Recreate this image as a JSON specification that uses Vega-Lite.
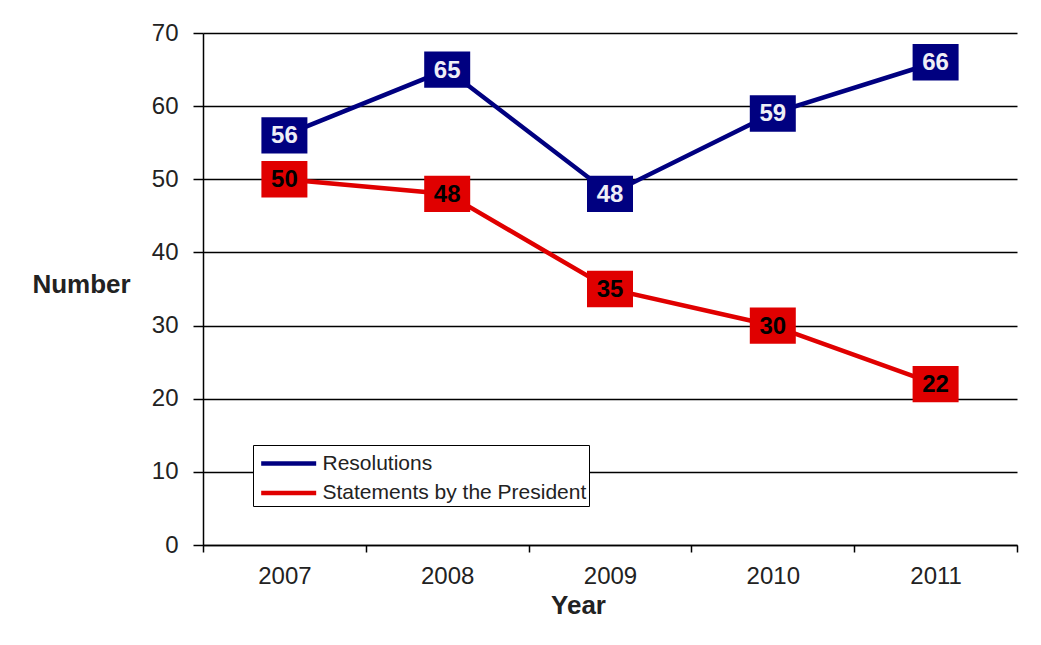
{
  "$schema": "https://vega.github.io/schema/vega-lite/v6.json",
  "autosize": {"type": "none"},
  "width": 814,
  "height": 512,
  "padding": {"left": 203, "top": 33, "right": 24, "bottom": 100},
  "background": "white",
  "config": {
    "view": {"stroke": null},
    "font": "Liberation Sans",
    "axis": {
      "domainColor": "black",
      "domainWidth": 1.5,
      "tickColor": "black",
      "tickWidth": 1.5,
      "labelColor": "#222222",
      "labelFont": "Liberation Sans",
      "labelFontSize": 24,
      "titleFont": "Liberation Sans",
      "titleFontSize": 26,
      "titleFontWeight": "bold",
      "titleColor": "#222222"
    }
  },
  "data": {
    "values": [
      {"year": 2007, "series": "Resolutions", "value": 56},
      {"year": 2008, "series": "Resolutions", "value": 65},
      {"year": 2009, "series": "Resolutions", "value": 48},
      {"year": 2010, "series": "Resolutions", "value": 59},
      {"year": 2011, "series": "Resolutions", "value": 66},
      {"year": 2007, "series": "Statements by the President", "value": 50},
      {"year": 2008, "series": "Statements by the President", "value": 48},
      {"year": 2009, "series": "Statements by the President", "value": 35},
      {"year": 2010, "series": "Statements by the President", "value": 30},
      {"year": 2011, "series": "Statements by the President", "value": 22}
    ]
  },
  "encoding": {
    "x": {
      "field": "year",
      "type": "quantitative",
      "scale": {"domain": [2006.5, 2011.5], "nice": false, "zero": false},
      "axis": {
        "title": "Year",
        "values": [2006.5, 2007, 2007.5, 2008, 2008.5, 2009, 2009.5, 2010, 2010.5, 2011, 2011.5],
        "labelExpr": "datum.value % 1 == 0 ? '' + datum.value : ''",
        "tickOpacity": {"condition": {"test": "datum.value % 1 == 0", "value": 0}, "value": 1},
        "tickSize": 7,
        "labelPadding": 12,
        "labelFlush": false,
        "labelOverlap": false,
        "grid": false,
        "titleX": 375,
        "titleY": 60,
        "titleBaseline": "middle",
        "titleAlign": "center"
      }
    },
    "y": {
      "field": "value",
      "type": "quantitative",
      "scale": {"domain": [0, 70], "nice": false},
      "axis": {
        "title": "Number",
        "values": [0, 10, 20, 30, 40, 50, 60, 70],
        "grid": true,
        "gridColor": "black",
        "gridWidth": 1.5,
        "gridOpacity": 1,
        "tickSize": 10,
        "labelPadding": 15,
        "titleAngle": 0,
        "titleX": -122,
        "titleY": 251,
        "titleAlign": "center",
        "titleBaseline": "middle"
      }
    }
  },
  "layer": [
    {
      "mark": {"type": "line", "strokeWidth": 4.5},
      "encoding": {
        "color": {
          "field": "series",
          "type": "nominal",
          "scale": {"domain": ["Resolutions", "Statements by the President"], "range": ["#000080", "#E00000"]},
          "legend": {
            "title": null,
            "orient": "none",
            "legendX": 50,
            "legendY": 412,
            "direction": "vertical",
            "strokeColor": "black",
            "fillColor": "white",
            "padding": 2.5,
            "symbolType": "M-0.75,0L3.25,0",
            "symbolSize": 756,
            "symbolStrokeWidth": 4.5,
            "labelFont": "Liberation Sans",
            "labelFontSize": 21,
            "labelColor": "#222222",
            "labelOffset": 35,
            "rowPadding": 3.5,
            "labelLimit": 400
          }
        }
      }
    },
    {
      "mark": {
        "type": "point",
        "shape": "M-1,-0.79L1,-0.79L1,0.79L-1,0.79Z",
        "filled": true,
        "opacity": 1,
        "size": 2116,
        "strokeWidth": 0
      },
      "encoding": {
        "color": {
          "condition": {"test": "datum.series == 'Resolutions'", "value": "#000080"},
          "value": "#E00000"
        }
      }
    },
    {
      "mark": {
        "type": "text",
        "font": "Liberation Sans",
        "fontSize": 24,
        "fontWeight": "bold",
        "align": "center",
        "baseline": "middle",
        "dy": 1
      },
      "encoding": {
        "text": {"field": "value", "type": "quantitative"},
        "color": {
          "condition": {"test": "datum.series == 'Resolutions'", "value": "#eeeef6"},
          "value": "black"
        }
      }
    }
  ]
}
